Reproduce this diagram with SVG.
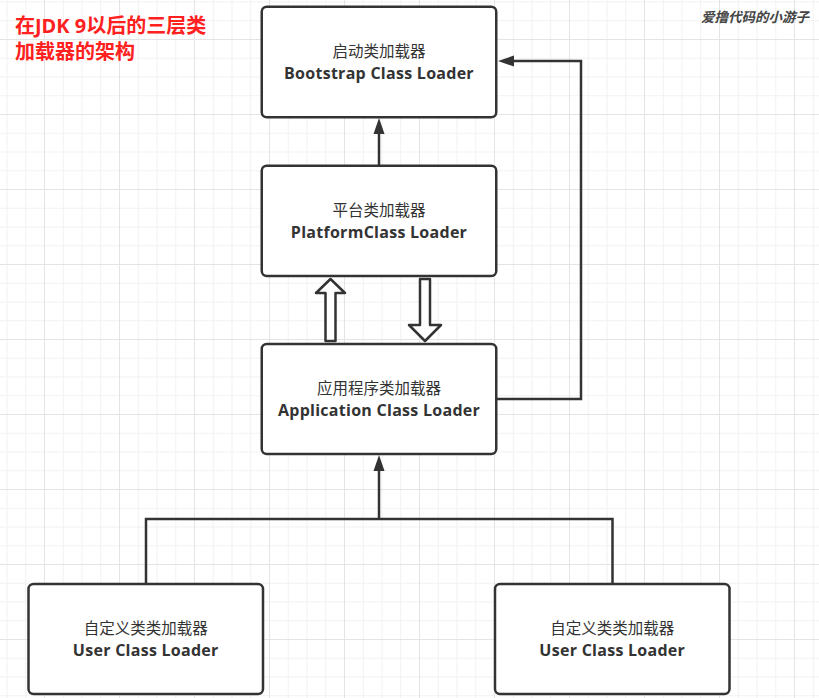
<svg xmlns="http://www.w3.org/2000/svg" width="819" height="698" viewBox="0 0 819 698">
<style>
.box{fill:#fff;stroke:#333;stroke-width:2.5}
.line{fill:none;stroke:#333;stroke-width:2.5}
.hollow{fill:#fff;stroke:#333;stroke-width:2.5;stroke-linejoin:round}
.zh{font-family:"Noto Sans CJK SC",sans-serif;font-size:15.5px;fill:#333;text-anchor:middle}
.en{font-family:"Open Sans","Noto Sans",sans-serif;font-weight:700;font-size:16px;letter-spacing:0.27px;fill:#333;text-anchor:middle}
.title{font-family:"Noto Sans","Noto Sans CJK SC",sans-serif;font-weight:700;font-size:20px;fill:#ff2020}
.mark{font-family:"Noto Sans CJK SC",sans-serif;font-style:italic;font-weight:700;font-size:13.5px;fill:#444}
</style>
<defs>
<pattern id="grid" patternUnits="userSpaceOnUse" x="44" y="39" width="75" height="75">
<rect x="18.75" y="0" width="1" height="75" fill="#f2f2f2"/>
<rect x="37.5" y="0" width="1" height="75" fill="#f2f2f2"/>
<rect x="56.25" y="0" width="1" height="75" fill="#f2f2f2"/>
<rect x="0" y="18.75" width="75" height="1" fill="#f2f2f2"/>
<rect x="0" y="37.5" width="75" height="1" fill="#f2f2f2"/>
<rect x="0" y="56.25" width="75" height="1" fill="#f2f2f2"/>
<rect x="0" y="0" width="1" height="75" fill="#e4e4e4"/>
<rect x="0" y="0" width="75" height="1" fill="#e4e4e4"/>
</pattern>
<marker id="arr" markerUnits="userSpaceOnUse" markerWidth="16" markerHeight="11" refX="0" refY="5.5" orient="auto" overflow="visible">
<path d="M0,0 L16,5.5 L0,11 Z" fill="#333"/>
</marker>
</defs>
<rect width="819" height="698" fill="#fff"/>
<rect width="819" height="698" fill="url(#grid)"/>

<g id="title">
<text class="title" x="15" y="33">在JDK 9以后的三层类</text>
<text class="title" x="15" y="59">加载器的架构</text>
</g>
<g id="watermark">
<text class="mark" x="701" y="22">爱撸代码的小游子</text>
</g>

<g id="connectors">
<path class="line" d="M379,165 V134" marker-end="url(#arr)"/>
<path class="line" d="M497,399 H581 V61 H514" marker-end="url(#arr)"/>
<path class="line" d="M146,584 V519 H612.5 V584"/>
<path class="line" d="M379,519 V471" marker-end="url(#arr)"/>
<path class="hollow" d="M325.5,341 V293 H316 L330.5,279 L345,293 H335.5 V341 Z"/>
<path class="hollow" d="M420,279 H430 V325 H441 L425,341 L409,325 H420 Z"/>
</g>

<g id="bootstrap">
<rect class="box" x="261.75" y="6.75" width="234.5" height="110.5" rx="5"/>
<text class="zh" x="379" y="57.2">启动类加载器</text>
<text class="en" x="379" y="78.8">Bootstrap Class Loader</text>
</g>
<g id="platform">
<rect class="box" x="261.75" y="165.75" width="234.5" height="110.25" rx="5"/>
<text class="zh" x="379" y="216.2">平台类加载器</text>
<text class="en" x="379" y="237.8">PlatformClass Loader</text>
</g>
<g id="application">
<rect class="box" x="261.75" y="344" width="234.5" height="110" rx="5"/>
<text class="zh" x="379" y="394.2">应用程序类加载器</text>
<text class="en" x="379" y="415.8">Application Class Loader</text>
</g>
<g id="user1">
<rect class="box" x="28.5" y="584" width="234.5" height="110" rx="5"/>
<text class="zh" x="145.75" y="634.2">自定义类类加载器</text>
<text class="en" x="145.75" y="655.8">User Class Loader</text>
</g>
<g id="user2">
<rect class="box" x="495" y="584" width="234.5" height="110" rx="5"/>
<text class="zh" x="612.25" y="634.2">自定义类类加载器</text>
<text class="en" x="612.25" y="655.8">User Class Loader</text>
</g>
</svg>
